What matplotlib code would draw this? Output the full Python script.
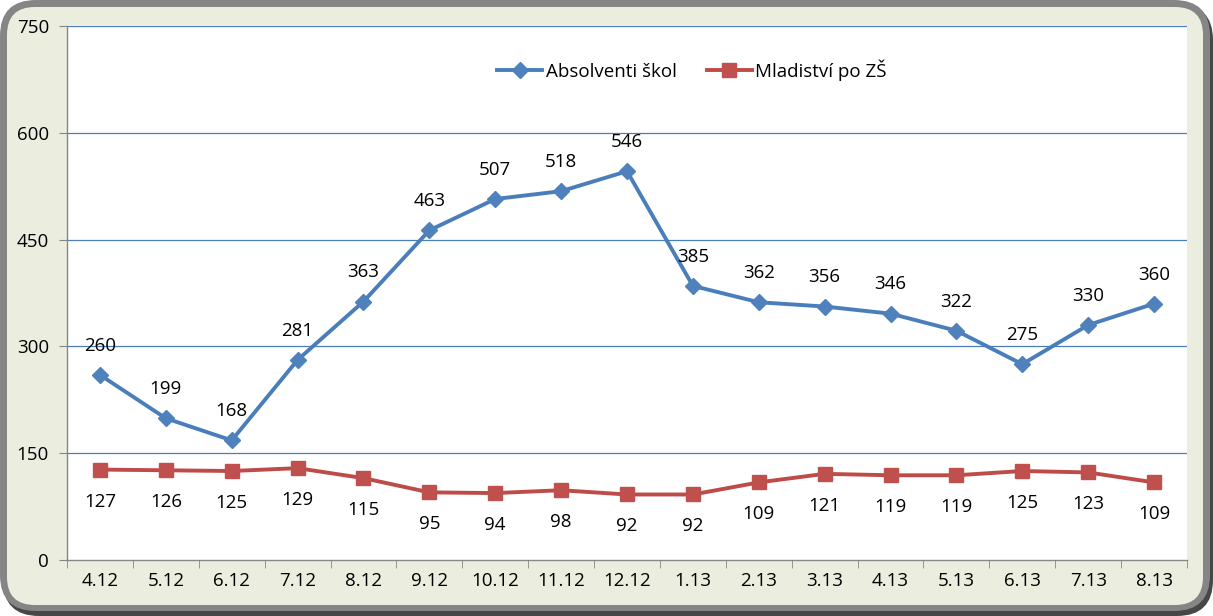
import matplotlib
matplotlib.use("Agg")
import matplotlib.pyplot as plt
from matplotlib.patches import FancyBboxPatch
import numpy as np

categories = ["4.12", "5.12", "6.12", "7.12", "8.12", "9.12", "10.12", "11.12", "12.12",
              "1.13", "2.13", "3.13", "4.13", "5.13", "6.13", "7.13", "8.13"]
absolventi = [260, 199, 168, 281, 363, 463, 507, 518, 546, 385, 362, 356, 346, 322, 275, 330, 360]
mladistvi = [127, 126, 125, 129, 115, 95, 94, 98, 92, 92, 109, 121, 119, 119, 125, 123, 109]
yticks = [0, 150, 300, 450, 600, 750]

plt.rcParams['font.family'] = ['Open Sans', 'DejaVu Sans']
FS = 13.5

W, H = 1213, 616
fig = plt.figure(figsize=(W / 100, H / 100), dpi=100)
fig.patch.set_facecolor("white")

# background frame drawn in pixel coordinates
bg = fig.add_axes([0, 0, 1, 1])
bg.set_xlim(0, W)
bg.set_ylim(H, 0)
bg.axis("off")
bg.set_zorder(0)

def rbox(x0, y0, x1, y1, r, color):
    bg.add_patch(FancyBboxPatch((x0, y0), x1 - x0, y1 - y0,
                                boxstyle=f"round,pad=0,rounding_size={r}",
                                facecolor=color, edgecolor="none"))

rbox(3, 4, 1213, 616, 36, "#474747")
rbox(0, 0, 1210, 611, 36, "#858585")
rbox(7, 7, 1203, 605, 28, "#ebeedf")

def fx(px):
    return px / W

def fy(py):
    return 1 - py / H

ax = fig.add_axes([fx(67), fy(560), fx(1187) - fx(67), fy(26) - fy(560)])
ax.set_zorder(1)
ax.set_facecolor("white")
x = np.arange(len(categories))

ax.set_ylim(0, 750)
ax.set_xlim(-0.5, len(categories) - 0.5)
ax.set_yticks(yticks)
ax.set_yticklabels([str(v) for v in yticks], fontsize=FS)
for v in yticks[1:]:
    ax.axhline(v, color="#4a7ebb", lw=0.9, zorder=1)

ax.set_xticks(x)
ax.set_xticklabels(categories, fontsize=FS)
ax.tick_params(axis="x", which="major", length=0, pad=9)
ax.set_xticks(np.arange(-0.5, len(categories), 1.0), minor=True)
ax.tick_params(axis="x", which="minor", length=6, color="#868686", direction="out")
ax.tick_params(axis="y", length=6, color="#868686", direction="out", pad=7)

for s in ["top", "right"]:
    ax.spines[s].set_visible(False)
for s in ["left", "bottom"]:
    ax.spines[s].set_color("#868686")
    ax.spines[s].set_linewidth(1.0)

l1, = ax.plot(x, absolventi, color="#4a7ebb", lw=2.8, marker="D", ms=8.5,
              markerfacecolor="#4f81bd", markeredgecolor="#4f81bd", zorder=3,
              label="Absolventi škol")
l2, = ax.plot(x, mladistvi, color="#be4b48", lw=2.8, marker="s", ms=10,
              markerfacecolor="#c0504d", markeredgecolor="#c0504d", zorder=3,
              label="Mladiství po ZŠ")

for xi, v in zip(x, absolventi):
    ax.annotate(str(v), (xi, v), xytext=(0, 21), textcoords="offset points",
                ha="center", va="center", fontsize=FS, color="black")
for xi, v in zip(x, mladistvi):
    ax.annotate(str(v), (xi, v), xytext=(0, -23), textcoords="offset points",
                ha="center", va="center", fontsize=FS, color="black")

leg = ax.legend(handles=[l1, l2], loc="center", bbox_to_anchor=(0.558, 0.918),
                ncol=2, frameon=False, fontsize=FS, handlelength=2.4,
                columnspacing=1.6, handletextpad=0.2)

fig.savefig("out.png", dpi=100, facecolor=fig.get_facecolor())
